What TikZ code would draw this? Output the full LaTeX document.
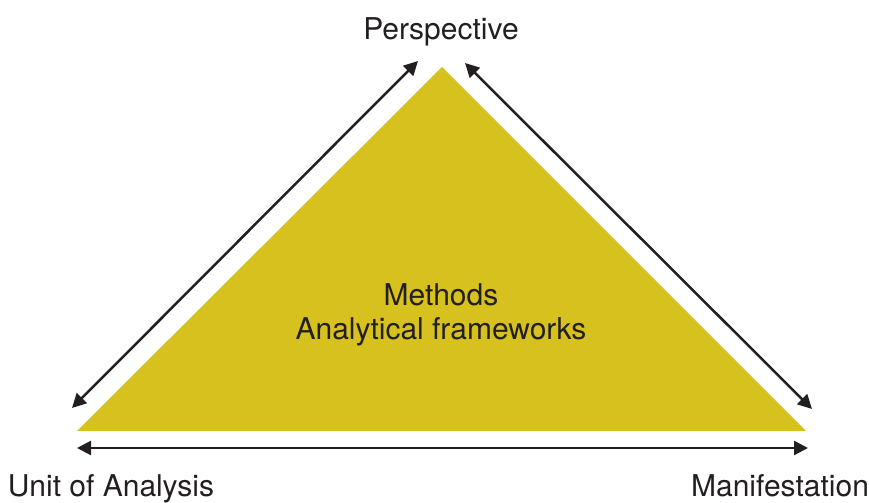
\documentclass[tikz,border=0pt]{standalone}
\usepackage{xcolor}
\usepackage{fontspec}
\setmainfont{TeX Gyre Heros}
\usetikzlibrary{arrows.meta, positioning, calc}

\definecolor{triyellow}{RGB}{214,193,31}
\definecolor{inkgray}{RGB}{35,31,32}

\begin{document}
\begin{tikzpicture}[
    x=0.5pt, y=0.5pt,
    label/.style={text=inkgray, font=\fontsize{15}{17}\selectfont, inner sep=0pt, anchor=base},
    arrow/.style={{Triangle[length=7pt,width=7pt]}-{Triangle[length=7pt,width=7pt]}, line width=1.25pt, draw=inkgray}
]
    \useasboundingbox (0,0) rectangle (869,503);

    % corners of the triangle
    \coordinate (top) at (442,436);
    \coordinate (left) at (77,72);
    \coordinate (right) at (806,72);
    \fill[triyellow] (left) -- (top) -- (right) -- cycle;

    \node[label] (methods) at (441,197) {Methods};
    \node[label] (frames) at (441,163) {Analytical frameworks};

    \node[label] (persp) at (441,463) {Perspective};
    \node[label] (unit) at (111,6) {Unit of Analysis};
    \node[label] (manif) at (780,6) {Manifestation};

    % arrow ends
    \coordinate (la) at (72,95);
    \coordinate (lb) at (418,442);
    \coordinate (ra) at (465,440);
    \coordinate (rb) at (812,94);
    \coordinate (ba) at (77,55);
    \coordinate (bb) at (808,55);

    \draw[arrow] (la) -- (lb);
    \draw[arrow] (ra) -- (rb);
    \draw[arrow] (ba) -- (bb);
\end{tikzpicture}
\end{document}
